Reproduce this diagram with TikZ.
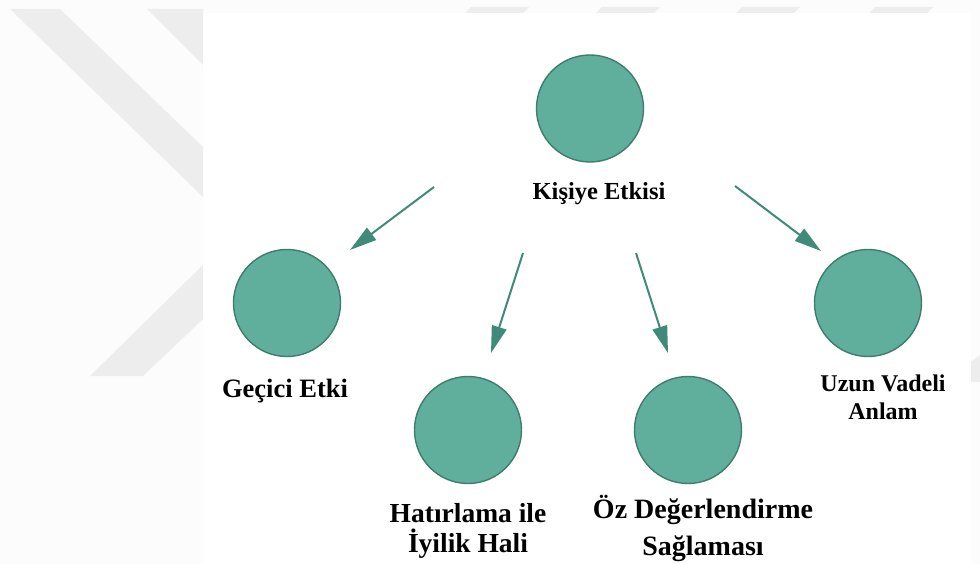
\documentclass[tikz,border=0pt]{standalone}
\usepackage{fontspec}
\setmainfont{Liberation Serif}
\usetikzlibrary{arrows.meta}
\definecolor{circfill}{HTML}{60AF9C}
\definecolor{circline}{HTML}{3E7D6C}
\definecolor{arrowcol}{HTML}{3F8A78}
\definecolor{wmark}{HTML}{EDEDED}
\definecolor{bgcol}{HTML}{FCFCFC}
\tikzset{
  bubble/.style={circle, fill=circfill, draw=circline, line width=1.4pt, minimum size=107pt, inner sep=0pt},
  lab/.style={align=center, inner sep=0pt, anchor=base, font=\bfseries},
  conn/.style={draw=arrowcol, line width=2pt, -{Triangle[length=27pt,width=15pt]}}
}
\begin{document}
\begin{tikzpicture}[x=1pt,y=-1pt]
\useasboundingbox (0,0) rectangle (980,564);
% background and watermark
\fill[bgcol] (0,0) rectangle (980,564);
\fill[wmark] (10,9) -- (60,9) -- (203,147) -- (203,197) -- cycle;
\fill[wmark] (147,9) -- (203,9) -- (203,65) -- cycle;
\fill[wmark] (90,376) -- (143,376) -- (203,319) -- (203,265) -- cycle;
\fill[wmark] (465,13) -- (523,13) -- (529,7) -- (471,7) -- cycle;
\fill[wmark] (596,13) -- (654,13) -- (660,7) -- (602,7) -- cycle;
\fill[wmark] (736,13) -- (794,13) -- (800,7) -- (742,7) -- cycle;
\fill[wmark] (869,13) -- (927,13) -- (933,7) -- (875,7) -- cycle;
\fill[wmark] (971,362) -- (980,355) -- (980,382) -- (971,382) -- cycle;
\fill[white] (203,13) rectangle (971,564);
% circles
\node[bubble] (top) at (590,108.5) {};
\node[bubble] (gec) at (287,303) {};
\node[bubble] (hat) at (468,430) {};
\node[bubble] (oz)  at (688,430) {};
\node[bubble] (uzun) at (868,303) {};
% labels (anchor base = baseline of the last line)
\node[lab, font=\bfseries\fontsize{24.5}{26}\selectfont] (ltop) at (599,200) {Kişiye Etkisi};
\node[lab, font=\bfseries\fontsize{26.5}{28}\selectfont] (lgec) at (285,397) {Geçici Etki};
\node[lab, font=\bfseries\fontsize{27.5}{30}\selectfont] (lhat) at (468,552) {Hatırlama ile\\İyilik Hali};
\node[lab, font=\bfseries\fontsize{28}{37}\selectfont] (loz) at (703,555) {Öz Değerlendirme\\Sağlaması};
\node[lab, font=\bfseries\fontsize{24}{28}\selectfont] (luzun) at (883,419) {Uzun Vadeli\\Anlam};
% arrows
\coordinate (s1) at (434,187); \coordinate (e1) at (350,250);
\coordinate (s2) at (523,253); \coordinate (e2) at (491,353);
\coordinate (s3) at (636,253); \coordinate (e3) at (668,353);
\coordinate (s4) at (735,186); \coordinate (e4) at (821,251);
\draw[conn] (s1) -- (e1);
\draw[conn] (s2) -- (e2);
\draw[conn] (s3) -- (e3);
\draw[conn] (s4) -- (e4);
\end{tikzpicture}
\end{document}
